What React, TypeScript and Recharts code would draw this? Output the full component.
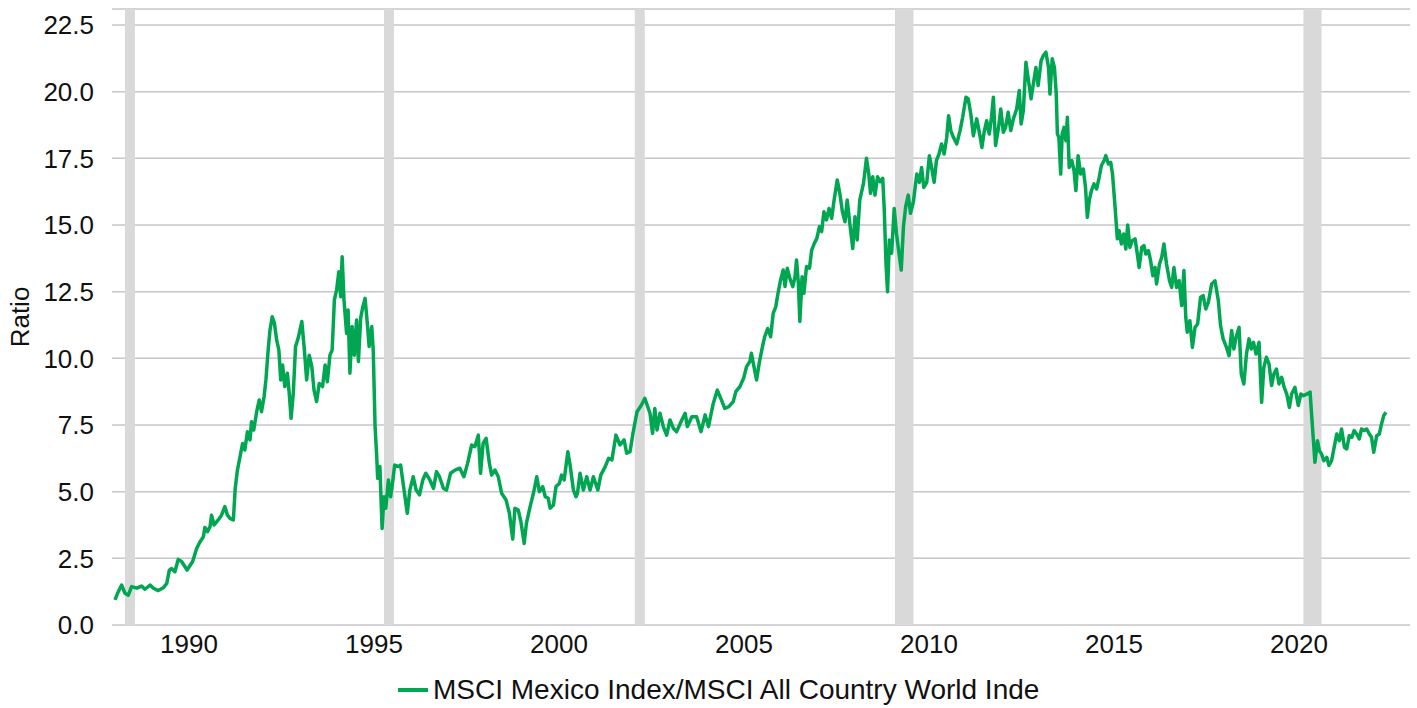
import { LineChart, Line, XAxis, YAxis, CartesianGrid, ReferenceArea, Legend } from 'recharts';

// decimal years
const dates = [
  1988.0, 1988.09, 1988.18, 1988.27, 1988.36, 1988.45, 1988.59, 1988.72, 1988.81, 1988.95,
  1989.04, 1989.17, 1989.31, 1989.4, 1989.47, 1989.53, 1989.62, 1989.71, 1989.8, 1989.95,
  1990.1, 1990.21, 1990.3, 1990.39, 1990.43, 1990.5, 1990.57, 1990.61, 1990.68, 1990.79,
  1990.88, 1990.97, 1991.04, 1991.11, 1991.2, 1991.25, 1991.31, 1991.38, 1991.45, 1991.51,
  1991.58, 1991.65, 1991.69, 1991.75, 1991.83, 1991.9, 1991.96, 1992.03, 1992.08, 1992.14,
  1992.19, 1992.25, 1992.31, 1992.37, 1992.43, 1992.48, 1992.53, 1992.59, 1992.66, 1992.71,
  1992.76, 1992.82, 1992.88, 1992.95, 1993.05, 1993.12, 1993.18, 1993.25, 1993.32, 1993.38,
  1993.45, 1993.52, 1993.61, 1993.68, 1993.74, 1993.81, 1993.87, 1993.93, 1993.99, 1994.05,
  1994.1, 1994.14, 1994.19, 1994.26, 1994.3, 1994.35, 1994.41, 1994.47, 1994.53, 1994.58,
  1994.64, 1994.69, 1994.76, 1994.82, 1994.87, 1994.94, 1994.98, 1995.03, 1995.07, 1995.1,
  1995.16, 1995.22, 1995.27, 1995.32, 1995.39, 1995.45, 1995.5, 1995.56, 1995.66, 1995.72,
  1995.8, 1995.9, 1995.97, 1996.06, 1996.14, 1996.23, 1996.32, 1996.4, 1996.51, 1996.61,
  1996.69, 1996.77, 1996.88, 1996.96, 1997.07, 1997.19, 1997.32, 1997.43, 1997.53, 1997.64,
  1997.73, 1997.82, 1997.88, 1997.95, 1998.03, 1998.12, 1998.18, 1998.27, 1998.36, 1998.45,
  1998.57, 1998.66, 1998.75, 1998.81, 1998.9, 1998.97, 1999.06, 1999.12, 1999.22, 1999.31,
  1999.4, 1999.47, 1999.56, 1999.63, 1999.71, 1999.76, 1999.85, 1999.92, 2000.01, 2000.07,
  2000.14, 2000.24, 2000.3, 2000.39, 2000.46, 2000.5, 2000.57, 2000.66, 2000.75, 2000.84,
  2000.93, 2001.05, 2001.13, 2001.25, 2001.34, 2001.43, 2001.54, 2001.65, 2001.76, 2001.83,
  2001.92, 2002.0, 2002.11, 2002.23, 2002.32, 2002.46, 2002.53, 2002.59, 2002.65, 2002.73,
  2002.82, 2002.91, 2003.0, 2003.09, 2003.18, 2003.32, 2003.41, 2003.47, 2003.59, 2003.72,
  2003.84, 2003.95, 2004.04, 2004.17, 2004.28, 2004.39, 2004.48, 2004.59, 2004.71, 2004.78,
  2004.89, 2004.99, 2005.07, 2005.16, 2005.2, 2005.27, 2005.34, 2005.41, 2005.5, 2005.56,
  2005.64, 2005.72, 2005.79, 2005.86, 2005.92, 2005.99, 2006.06, 2006.11, 2006.17, 2006.24,
  2006.32, 2006.38, 2006.42, 2006.47, 2006.51, 2006.57, 2006.62, 2006.69, 2006.77, 2006.83,
  2006.9, 2006.97, 2007.04, 2007.1, 2007.16, 2007.23, 2007.3, 2007.37, 2007.43, 2007.52,
  2007.59, 2007.66, 2007.73, 2007.79, 2007.86, 2007.94, 2008.0, 2008.06, 2008.13, 2008.23,
  2008.31, 2008.37, 2008.42, 2008.48, 2008.54, 2008.61, 2008.68, 2008.75, 2008.79, 2008.84,
  2008.88, 2008.93, 2008.99, 2009.06, 2009.12, 2009.19, 2009.25, 2009.31, 2009.37, 2009.44,
  2009.5, 2009.58, 2009.67, 2009.74, 2009.8, 2009.86, 2009.94, 2010.01, 2010.07, 2010.14,
  2010.2, 2010.27, 2010.34, 2010.41, 2010.48, 2010.53, 2010.59, 2010.66, 2010.75, 2010.84,
  2010.91, 2011.0, 2011.06, 2011.13, 2011.2, 2011.29, 2011.37, 2011.43, 2011.49, 2011.56,
  2011.63, 2011.69, 2011.74, 2011.8, 2011.88, 2011.94, 2012.01, 2012.07, 2012.14, 2012.21,
  2012.28, 2012.37, 2012.44, 2012.49, 2012.55, 2012.62, 2012.69, 2012.76, 2012.82, 2012.89,
  2012.95, 2013.03, 2013.09, 2013.16, 2013.23, 2013.27, 2013.33, 2013.39, 2013.44, 2013.47,
  2013.51, 2013.56, 2013.6, 2013.65, 2013.7, 2013.74, 2013.79, 2013.86, 2013.92, 2013.97,
  2014.03, 2014.1, 2014.17, 2014.23, 2014.28, 2014.33, 2014.39, 2014.46, 2014.53, 2014.6,
  2014.66, 2014.73, 2014.78, 2014.85, 2014.91, 2014.96, 2015.03, 2015.09, 2015.14, 2015.2,
  2015.26, 2015.32, 2015.37, 2015.43, 2015.49, 2015.57, 2015.63, 2015.68, 2015.75, 2015.81,
  2015.86, 2015.93, 2015.99, 2016.05, 2016.11, 2016.15, 2016.23, 2016.29, 2016.35, 2016.42,
  2016.5, 2016.56, 2016.62, 2016.69, 2016.76, 2016.83, 2016.89, 2016.94, 2016.98, 2017.05,
  2017.12, 2017.19, 2017.26, 2017.34, 2017.41, 2017.48, 2017.55, 2017.64, 2017.73, 2017.82,
  2017.88, 2017.95, 2018.04, 2018.11, 2018.18, 2018.24, 2018.3, 2018.38, 2018.44, 2018.51,
  2018.58, 2018.65, 2018.71, 2018.77, 2018.84, 2018.92, 2018.99, 2019.05, 2019.12, 2019.19,
  2019.26, 2019.32, 2019.39, 2019.46, 2019.53, 2019.6, 2019.67, 2019.74, 2019.8, 2019.89,
  2019.98, 2020.05, 2020.12, 2020.21, 2020.3, 2020.34, 2020.39, 2020.43, 2020.5, 2020.55,
  2020.61, 2020.67, 2020.75, 2020.81, 2020.88, 2020.95, 2021.02, 2021.09, 2021.15, 2021.23,
  2021.29, 2021.36, 2021.43, 2021.49, 2021.56, 2021.63, 2021.69, 2021.76, 2021.83, 2021.9,
  2021.96, 2022.02, 2022.1, 2022.17, 2022.23, 2022.29, 2022.35,
];

const ratio = [
  0.94, 1.25, 1.5, 1.19, 1.12, 1.44, 1.38, 1.46, 1.34, 1.5,
  1.38, 1.29, 1.4, 1.56, 2.06, 2.12, 2.0, 2.46, 2.38, 2.06,
  2.38, 2.88, 3.12, 3.31, 3.66, 3.5, 3.69, 4.12, 3.75, 3.94,
  4.12, 4.44, 4.12, 4.0, 3.94, 5.12, 5.81, 6.31, 6.81, 6.56,
  7.25, 6.94, 7.62, 7.31, 8.0, 8.44, 8.0, 8.56, 9.19, 10.31,
  11.06, 11.56, 11.31, 10.69, 10.31, 9.19, 9.75, 8.94, 9.44, 8.69,
  7.75, 8.69, 10.44, 10.75, 11.38, 10.31, 9.19, 10.12, 9.69, 8.81,
  8.38, 9.06, 8.94, 9.75, 9.12, 10.12, 10.31, 12.19, 12.56, 13.25,
  12.31, 13.81, 12.19, 10.94, 11.81, 9.44, 11.19, 10.12, 11.44, 9.88,
  11.5, 11.88, 12.25, 11.31, 10.44, 11.19, 10.31, 7.44, 6.44, 5.5,
  5.94, 3.62, 4.81, 4.38, 5.44, 4.81, 5.31, 6.0, 5.94, 6.0,
  5.19, 4.19, 5.06, 5.56, 5.06, 4.88, 5.44, 5.69, 5.44, 5.12,
  5.75, 5.56, 5.12, 5.06, 5.69, 5.81, 5.88, 5.56, 6.06, 6.75,
  6.69, 7.12, 5.69, 6.81, 7.0, 6.06, 5.62, 5.81, 5.56, 4.94,
  4.69, 4.19, 3.22, 4.38, 4.31, 3.88, 3.06, 3.81, 4.44, 4.94,
  5.56, 5.0, 5.19, 4.81, 4.75, 4.38, 4.5, 5.19, 5.31, 5.62,
  5.44, 6.5, 6.0, 5.06, 4.81, 4.94, 5.69, 5.06, 5.56, 5.06,
  5.56, 5.06, 5.62, 5.94, 6.25, 6.19, 7.12, 6.75, 6.94, 6.44,
  6.5, 7.19, 8.0, 8.25, 8.5, 7.94, 7.19, 8.12, 7.31, 7.94,
  7.44, 7.12, 7.69, 7.38, 7.25, 7.69, 7.94, 7.44, 7.81, 7.81,
  7.25, 7.88, 7.44, 8.31, 8.81, 8.44, 8.12, 8.19, 8.38, 8.75,
  8.94, 9.25, 9.69, 9.88, 10.19, 9.69, 9.19, 9.81, 10.44, 10.81,
  11.12, 10.81, 11.69, 11.94, 12.44, 12.94, 13.31, 12.69, 13.38, 13.0,
  12.69, 13.06, 13.69, 12.81, 11.38, 13.06, 12.44, 13.44, 13.38, 14.06,
  14.31, 14.5, 14.94, 14.75, 15.5, 15.19, 15.62, 15.25, 15.88, 16.69,
  16.19, 15.5, 15.12, 15.94, 15.06, 14.12, 15.31, 14.44, 15.94, 16.56,
  17.5, 16.94, 16.19, 16.81, 16.12, 16.81, 16.62, 16.75, 15.62, 13.5,
  12.5, 14.44, 13.94, 15.62, 14.69, 13.94, 13.31, 14.94, 15.69, 16.12,
  15.44, 15.88, 16.91, 16.6, 17.16, 16.41, 16.6, 17.6, 17.16, 16.6,
  17.41, 17.66, 18.04, 17.66, 18.29, 19.1, 18.54, 18.29, 18.04, 18.54,
  19.04, 19.79, 19.73, 19.16, 18.35, 18.98, 18.41, 17.91, 18.48, 18.91,
  18.41, 19.04, 19.79, 17.98, 18.66, 19.35, 18.48, 18.66, 19.23, 18.54,
  18.98, 19.35, 20.04, 18.79, 19.29, 21.1, 20.41, 19.73, 20.29, 20.91,
  20.23, 21.16, 21.35, 21.48, 20.91, 19.91, 21.23, 20.91, 19.91, 18.41,
  18.29, 16.91, 18.41, 18.66, 18.16, 19.04, 17.16, 17.41, 17.04, 16.29,
  17.6, 16.91, 17.1, 16.41, 15.29, 15.91, 16.29, 16.54, 16.35, 16.79,
  17.23, 17.41, 17.6, 17.29, 17.35, 16.91, 15.66, 14.48, 14.79, 14.29,
  14.66, 14.1, 15.0, 14.16, 14.41, 14.48, 13.91, 13.41, 14.16, 14.23,
  13.91, 14.04, 13.66, 13.1, 13.41, 12.79, 13.54, 13.79, 14.29, 13.54,
  12.91, 12.66, 13.41, 12.66, 12.91, 11.98, 13.29, 11.54, 10.98, 11.41,
  10.41, 11.16, 11.29, 12.29, 12.35, 11.85, 12.1, 12.79, 12.91, 12.16,
  11.23, 10.73, 10.41, 10.1, 11.04, 10.35, 10.79, 11.16, 9.41, 9.04,
  10.16, 10.73, 10.35, 10.6, 10.16, 10.6, 8.35, 9.66, 10.04, 9.79,
  8.98, 9.41, 9.6, 9.04, 9.29, 8.91, 8.66, 8.16, 8.66, 8.91,
  8.23, 8.66, 8.6, 8.66, 8.73, 7.91, 6.91, 6.1, 6.91, 6.54,
  6.41, 6.16, 6.29, 5.98, 6.16, 6.66, 7.16, 6.91, 7.35, 6.66,
  6.6, 7.1, 7.04, 7.29, 7.16, 6.98, 7.35, 7.29, 7.35, 7.16,
  7.04, 6.48, 7.1, 7.16, 7.54, 7.85, 7.98,
];

const recessionStart = [1988.27, 1995.27, 2002.05, 2009.08, 2020.12];
const recessionEnd = [1988.54, 1995.54, 2002.32, 2009.58, 2020.61];

const yearTicks = [1990, 1995, 2000, 2005, 2010, 2015, 2020];
const ratioTicks = [0, 2.5, 5, 7.5, 10, 12.5, 15, 17.5, 20, 22.5];

const seriesName = 'MSCI Mexico Index/MSCI All Country World Inde';

const data = dates.map((d, i) => ({ date: d, ratio: ratio[i] }));

const font = '"Liberation Sans", Arial, sans-serif';
const green = '#00A651';

export default function App() {
  return (
    <div style={{ position: 'absolute', left: 0, top: 0, fontFamily: font }}>
      <LineChart width={1417} height={708} data={data} margin={{ top: 9, right: 7, bottom: 0, left: 0 }}>
        <CartesianGrid vertical={false} stroke="#c6c6cb" strokeWidth={1.5} />
        {recessionStart.map((s, i) => (
          <ReferenceArea key={s} x1={s} x2={recessionEnd[i]} fill="#d9d9d9" fillOpacity={1} stroke="none" />
        ))}
        <XAxis
          dataKey="date"
          type="number"
          domain={[1987.92, 2023.0]}
          ticks={yearTicks}
          allowDataOverflow
          axisLine={false}
          tickLine={false}
          tickMargin={4}
          height={40}
          tick={{ fontSize: 26, fill: '#111', fontFamily: font }}
        />
        <YAxis
          type="number"
          domain={[0, 23.1]}
          ticks={ratioTicks}
          allowDataOverflow
          axisLine={false}
          tickLine={false}
          tickMargin={12}
          width={112}
          tickFormatter={(v: number) => v.toFixed(1)}
          tick={{ fontSize: 26, fill: '#111', fontFamily: font }}
          label={{
            value: 'Ratio',
            angle: -90,
            position: 'insideLeft',
            offset: 20,
            style: { textAnchor: 'middle', fontSize: 26, fill: '#111', fontFamily: font },
          }}
        />
        <Line
          type="linear"
          dataKey="ratio"
          name={seriesName}
          stroke={green}
          strokeWidth={3.5}
          strokeLinejoin="round"
          dot={false}
          isAnimationActive={false}
        />
        <Legend
          verticalAlign="bottom"
          height={43}
          wrapperStyle={{ left: 0, width: 1417 }}
          content={() => (
            <div style={{ display: 'flex', alignItems: 'center', paddingLeft: 398, paddingTop: 6, height: 37 }}>
              <span style={{ display: 'inline-block', width: 30, height: 4, background: green, marginRight: 5 }} />
              <span style={{ fontSize: 28, color: '#111', fontFamily: font, lineHeight: '32px' }}>{seriesName}</span>
            </div>
          )}
        />
      </LineChart>
    </div>
  );
}
